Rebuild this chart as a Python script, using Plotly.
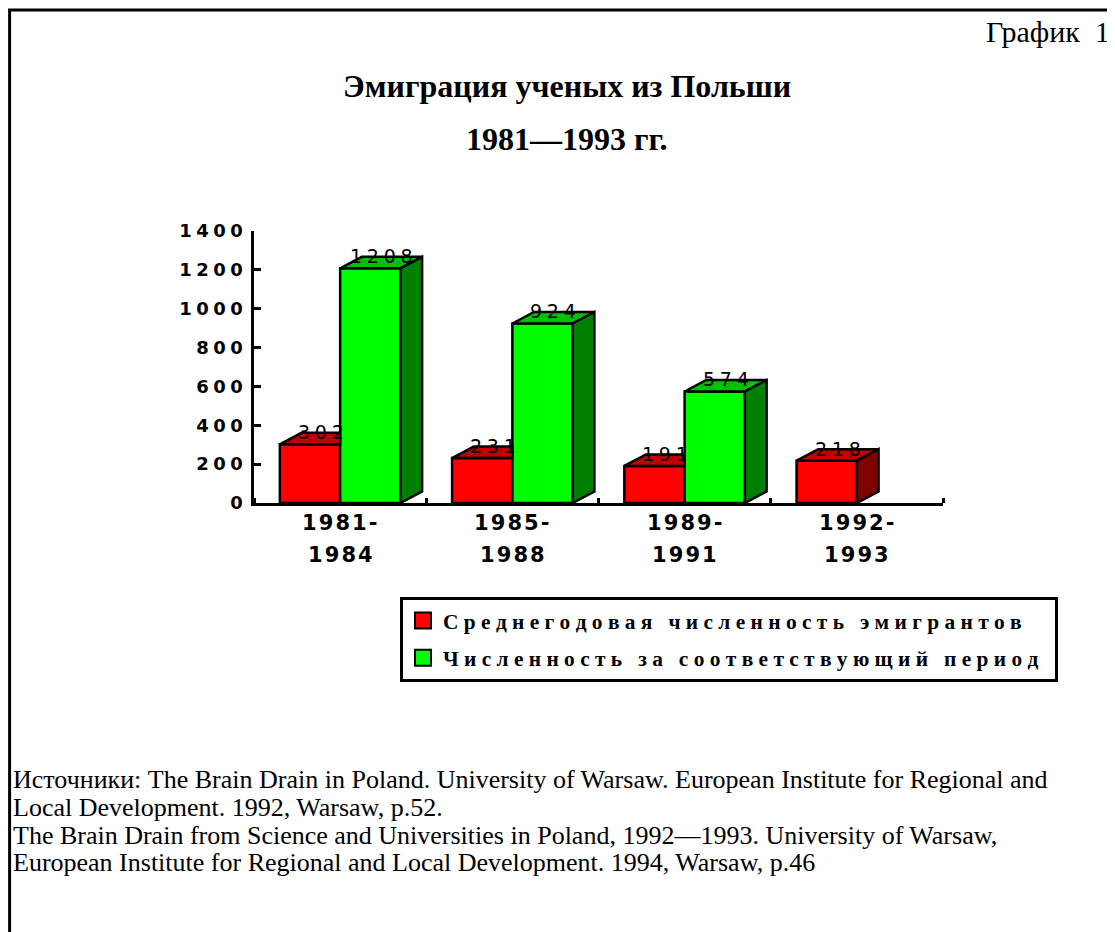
import plotly.graph_objects as go

# ---------------- data ----------------
categories = ["1981-1984", "1985-1988", "1989-1991", "1992-1993"]
avg_annual = [302, 231, 191, 218]          # Среднегодовая численность эмигрантов
period_total = [1208, 924, 574, None]      # Численность за соответствующий период
series_names = ["Среднегодовая численность эмигрантов",
                "Численность за соответствующий период"]
y_ticks = [0, 200, 400, 600, 800, 1000, 1200, 1400]
title_lines = ["Эмиграция ученых из Польши", "1981—1993 гг."]
chart_label = "График\u00a0\u00a01"
source_lines = [
    "Источники: The Brain Drain in Poland. University of Warsaw. European Institute for Regional and",
    "Local Development. 1992, Warsaw, p.52.",
    "The Brain Drain from Science and Universities in Poland, 1992—1993. University of Warsaw,",
    "European Institute for Regional and Local Development. 1994, Warsaw, p.46",
]

# ---------------- style ----------------
FRONT = ["#FF0000", "#00FF00"]
TOP = ["#C00000", "#00C000"]
SIDE = ["#800000", "#008000"]
SANS = "DejaVu Sans"
SERIF = "Liberation Serif, Times New Roman, serif"

W, H = 1115, 932
PAGE = 8                       # page offset of the plot div
AX_L, AX_R, AX_T, AX_B = 254, 943, 231, 503   # plot area on screen
ML, MT = AX_L - PAGE, AX_T - PAGE
MR, MB = W - (AX_R - PAGE), H - (AX_B - PAGE)
PW, PH = AX_R - AX_L, AX_B - AX_T
YMAX = 1400
BW = 0.35
DX = 21.7 / (PW / len(categories))   # depth offset, category units
DY = 11.5 * YMAX / PH                 # depth offset, data units
OUT = dict(color="black", width=2.5)
xpos = list(range(len(categories)))


def py(p):
    return round((AX_B - p) / PH, 5)


def px(p):
    return round((p - AX_L) / PW, 5)


def spaced(s, sep):
    words = s.split(" ")
    return (sep + " " + sep).join(sep.join(list(w)) for w in words)


series = [avg_annual, period_total]

fig = go.Figure()
for s, vals in enumerate(series):
    fig.add_trace(go.Bar(
        x=xpos, y=vals, width=BW, offset=-BW + s * BW,
        name=series_names[s], showlegend=False,
        customdata=categories, hovertemplate="%{customdata}: %{y}<extra></extra>",
        marker=dict(color=FRONT[s], line=OUT)))

# legend entries
for s in range(2):
    fig.add_trace(go.Scatter(
        x=[None], y=[None], mode="markers",
        name=spaced(series_names[s], "\u2005") + "\u2005\u2005",
        legendgroup=str(s), hoverinfo="skip",
        marker=dict(symbol="square", size=16, color=FRONT[s],
                    line=dict(color="black", width=2))))

shapes = []
annotations = []
for i in xpos:
    for s, vals in enumerate(series):
        v = vals[i]
        if v is None:
            continue
        x0 = i - BW + s * BW
        x1 = x0 + BW
        other = series[1][i] if s == 0 else None
        hidden = other is not None and other >= v
        if hidden:
            top = [(x0, v), (x1, v), (x1, v + DY), (x0 + DX, v + DY)]
        else:
            top = [(x0, v), (x1, v), (x1 + DX, v + DY), (x0 + DX, v + DY)]
            side = [(x1, 0), (x1, v), (x1 + DX, v + DY), (x1 + DX, DY)]
        polys = [(top, TOP[s])] + ([] if hidden else [(side, SIDE[s])])
        for pts, col in polys:
            path = "M " + " L ".join(f"{a:.4f},{b:.4f}" for a, b in pts) + " Z"
            shapes.append(dict(type="path", path=path, xref="x", yref="y",
                               fillcolor=col, line=OUT, layer="above"))
        annotations.append(dict(
            x=round(x0 + BW / 2 + DX / 2, 4), y=v, xref="x", yref="y", yshift=12,
            text=spaced(str(v), "\u2005"), showarrow=False,
            xanchor="center", yanchor="middle",
            font=dict(family=SANS, size=19, color="black")))

# category labels under the axis (two lines each)
for i, c in enumerate(categories):
    a, b = c.split("-")
    for k, t in enumerate([a + "-", b]):
        annotations.append(dict(
            x=i, y=py(523 + 31.5 * k), xref="x", yref="paper",
            text="<b>" + spaced(t, "\u200a") + "</b>", showarrow=False,
            xanchor="center", yanchor="middle",
            font=dict(family=SANS, size=21, color="black")))

# outer frame
shapes.append(dict(type="rect", xref="paper", yref="paper",
                   x0=px(9.6), x1=px(1140), y0=py(10), y1=py(960),
                   line=dict(color="black", width=3), fillcolor="rgba(0,0,0,0)",
                   layer="below"))

# titles
annotations.append(dict(x=px(567), y=py(86), xref="paper", yref="paper",
                        text="<b>" + title_lines[0] + "</b>", showarrow=False,
                        xanchor="center", yanchor="middle",
                        font=dict(family=SERIF, size=32, color="black")))
annotations.append(dict(x=px(567), y=py(139), xref="paper", yref="paper",
                        text="<b>" + title_lines[1] + "</b>", showarrow=False,
                        xanchor="center", yanchor="middle",
                        font=dict(family=SERIF, size=32, color="black")))
annotations.append(dict(x=px(984), y=py(32), xref="paper", yref="paper",
                        text=chart_label, showarrow=False,
                        xanchor="left", yanchor="middle",
                        font=dict(family=SERIF, size=30, color="black")))

# source note: one text block, ~26px glyphs on a ~27.8px line pitch
src_text = "<br>".join('<span style="font-size:26px">' + ln + "</span>" for ln in source_lines)
annotations.append(dict(x=px(11), y=py(763), xref="paper", yref="paper",
                        text=src_text, showarrow=False, align="left",
                        xanchor="left", yanchor="top",
                        font=dict(family=SERIF, size=21.4, color="black")))

boundaries = [i - 0.5 for i in xpos] + [xpos[-1] + 0.5]

fig.update_layout(
    width=W, height=H, autosize=False,
    margin=dict(l=ML, r=MR, t=MT, b=MB, pad=0),
    paper_bgcolor="white", plot_bgcolor="white",
    shapes=shapes, annotations=annotations,
    showlegend=True,
    legend=dict(x=px(400), y=py(597), xanchor="left", yanchor="top", bgcolor="white",
                bordercolor="black", borderwidth=3,
                traceorder="grouped", tracegroupgap=6.5,
                font=dict(family=SERIF, size=21.4, color="black", weight="bold")),
    xaxis=dict(range=[-0.5, len(categories) - 0.5], automargin=False,
               tickmode="array", tickvals=xpos, showticklabels=False, ticks="",
               showline=True, linecolor="black", linewidth=3,
               showgrid=False, zeroline=False,
               minor=dict(tickmode="array", tickvals=boundaries, ticks="inside",
                          ticklen=5, tickwidth=3, tickcolor="black", showgrid=False)),
    yaxis=dict(range=[0, YMAX], automargin=False,
               tickmode="array", tickvals=y_ticks,
               ticktext=[spaced(str(v), "\u2005") + "\u2005" for v in y_ticks],
               showline=True, linecolor="black", linewidth=3,
               ticks="inside", ticklen=7, tickwidth=2.5, tickcolor="black",
               showgrid=False, zeroline=False,
               tickfont=dict(family=SANS, size=18, color="black", weight="bold")),
)

fig.write_html("out.html")
